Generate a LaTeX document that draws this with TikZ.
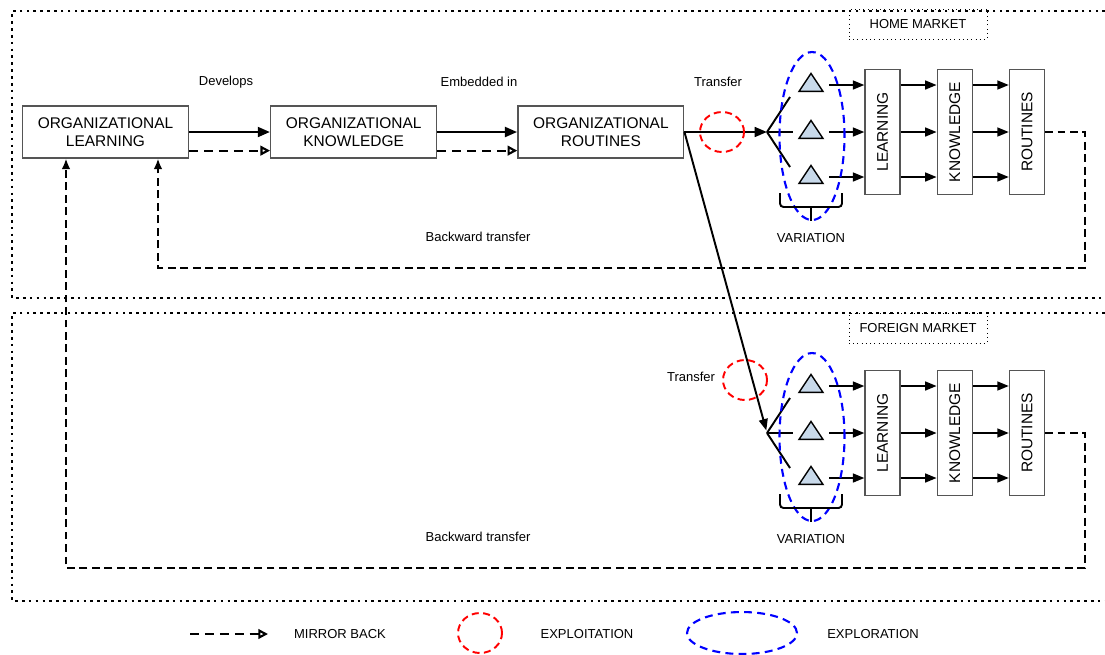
\documentclass[tikz,border=0pt]{standalone}
\usepackage{fontspec}
\setmainfont{Liberation Sans}
\usepackage{xcolor}
\usetikzlibrary{arrows.meta, positioning, shapes.geometric}

\definecolor{trifill}{RGB}{200,217,234}
\definecolor{boxline}{RGB}{85,85,85}

\tikzset{
  orgbox/.style={draw=boxline, line width=0.7pt, minimum width=3.32cm, minimum height=1.04cm,
    align=center, inner sep=0pt, font=\fontsize{8.8}{10.4}\selectfont},
  vbox/.style={draw=boxline, line width=0.7pt, minimum width=0.7cm, minimum height=2.5cm,
    inner sep=0pt, font=\fontsize{8.8}{10.4}\selectfont},
  lbl/.style={inner sep=1pt, font=\fontsize{7.4}{9}\selectfont},
  mktbox/.style={draw, dotted, line width=0.4pt, minimum width=2.76cm, minimum height=0.6cm,
    inner sep=0pt, font=\fontsize{7.4}{9}\selectfont},
  tri/.style={isosceles triangle, shape border rotate=90, isosceles triangle stretches,
    minimum width=0.48cm, minimum height=0.36cm, inner sep=0pt, draw, line width=0.8pt, fill=trifill},
  exploit/.style={ellipse, draw=red, line width=1.1pt, dash pattern=on 4pt off 2.5pt,
    minimum width=0.88cm, minimum height=0.8cm, inner sep=0pt},
  explore/.style={ellipse, draw=blue, line width=1.2pt, dash pattern=on 4.5pt off 3pt,
    minimum width=1.3cm, minimum height=3.36cm, inner sep=0pt},
  arr/.style={-{Triangle[length=6.5pt, width=5pt]}, line width=1.1pt},
  thickarr/.style={-{Triangle[length=7pt, width=5.5pt]}, line width=1.6pt},
  mirror/.style={-{Triangle[open, length=5.5pt, width=5.5pt]}, line width=1.2pt, dash pattern=on 5pt off 3.5pt},
  fb/.style={-{Latex[length=6pt, width=5pt]}, line width=1.1pt, dash pattern=on 4.5pt off 2.6pt},
  border/.style={line width=1.5pt, dash pattern=on 1.5pt off 2.4pt},
  fork/.style={line width=1.1pt},
  brace/.style={line width=1.1pt, rounded corners=2pt}
}

\begin{document}
\begin{tikzpicture}[x=0.02cm, y=-0.02cm, >=Stealth]
  \useasboundingbox (0,0) rectangle (1105,654);

  % Market frames
  \draw[border] (1105,11) -- (12,11) -- (12,298) -- (1105,298);
  \draw[border] (1105,313) -- (12,313) -- (12,601) -- (1105,601);
  \node (home) [mktbox] at (918,24) {HOME MARKET};
  \node (foreign) [mktbox] at (918,328) {FOREIGN MARKET};

  % Organizational nodes
  \node (OL) [orgbox] at (105.5,132) {ORGANIZATIONAL\\LEARNING};
  \node (OK) [orgbox, right=1.62cm of OL] {ORGANIZATIONAL\\KNOWLEDGE};
  \node (OR) [orgbox, right=1.6cm of OK] {ORGANIZATIONAL\\ROUTINES};

  \node (dev) [lbl] at (226,82) {Develops};
  \node (emb) [lbl] at (479,82) {Embedded in};

  \draw[thickarr] (OL) -- (OK);
  \draw[thickarr] (OK) -- (OR);
  \draw[mirror] ([yshift=0.16cm]OL.south east) -- ([yshift=0.16cm]OK.south west);
  \draw[mirror] ([yshift=0.16cm]OK.south east) -- ([yshift=0.16cm]OR.south west);

  % Both markets
  \foreach \mk/\yc in {h/132, f/433} {
    \coordinate (fork-\mk) at (767,\yc);
    \draw[fork] (fork-\mk) -- (790,\yc-35);
    \draw[fork] (fork-\mk) -- (793,\yc);
    \draw[fork] (fork-\mk) -- (790,\yc+35);

    \node (L-\mk) [vbox] at (882.5,\yc) {\rotatebox{90}{LEARNING}};
    \node (K-\mk) [vbox, right=0.72cm of L-\mk] {\rotatebox{90}{KNOWLEDGE}};
    \node (R-\mk) [vbox, right=0.72cm of K-\mk] {\rotatebox{90}{ROUTINES}};

    \foreach \k/\dy in {1/-47, 2/0, 3/45} {
      \node (T-\mk\k) [tri] at (811,\yc+\dy) {};
      \draw[arr] ([xshift=0.36cm]T-\mk\k.center) -- (L-\mk.west |- T-\mk\k);
      \draw[arr] (L-\mk.east |- T-\mk\k) -- (K-\mk.west |- T-\mk\k);
      \draw[arr] (K-\mk.east |- T-\mk\k) -- (R-\mk.west |- T-\mk\k);
    }

    \node (explore-\mk) [explore] at (812,\yc+4) {};
    \draw[brace] (780,\yc+61) -- (780,\yc+75) -- (842,\yc+75) -- (842,\yc+61);
    \draw[brace] (811,\yc+75) -- (811,\yc+89);
    \node (var-\mk) [lbl] at (811,\yc+106) {VARIATION};
  }

  % Transfer
  \node (tr-h) [lbl] at (718,82) {Transfer};
  \draw[thickarr, line width=1.4pt] (OR) -- (fork-h);
  \node (exploit-h) [exploit] at (722,132) {};
  \node (tr-f) [lbl] at (691,377) {Transfer};
  \draw[arr, shorten >=1.5pt] (OR.east) -- (fork-f);
  \node (exploit-f) [exploit] at (745,380) {};

  % Backward transfer
  \node (bt-h) [lbl] at (478,237) {Backward transfer};
  \node (bt-f) [lbl] at (478,537) {Backward transfer};
  \draw[fb] (R-h.east) -| (1085,268) -| ([xshift=1.05cm]OL.south);
  \draw[fb] (R-f.east) -| (1085,568) -| ([xshift=-0.79cm]OL.south);

  % Legend
  \coordinate (mb-a) at (190,634);
  \coordinate (mb-b) at (268,634);
  \draw[mirror] (mb-a) -- (mb-b);
  \node (mb) [lbl] at (340,634) {MIRROR BACK};
  \node (exploit-k) [exploit] at (480,633) {};
  \node (xpt) [lbl] at (587,634) {EXPLOITATION};
  \node (explore-k) [explore, minimum width=2.2cm, minimum height=0.84cm] at (742,633) {};
  \node (xpr) [lbl] at (873,634) {EXPLORATION};

\end{tikzpicture}
\end{document}
